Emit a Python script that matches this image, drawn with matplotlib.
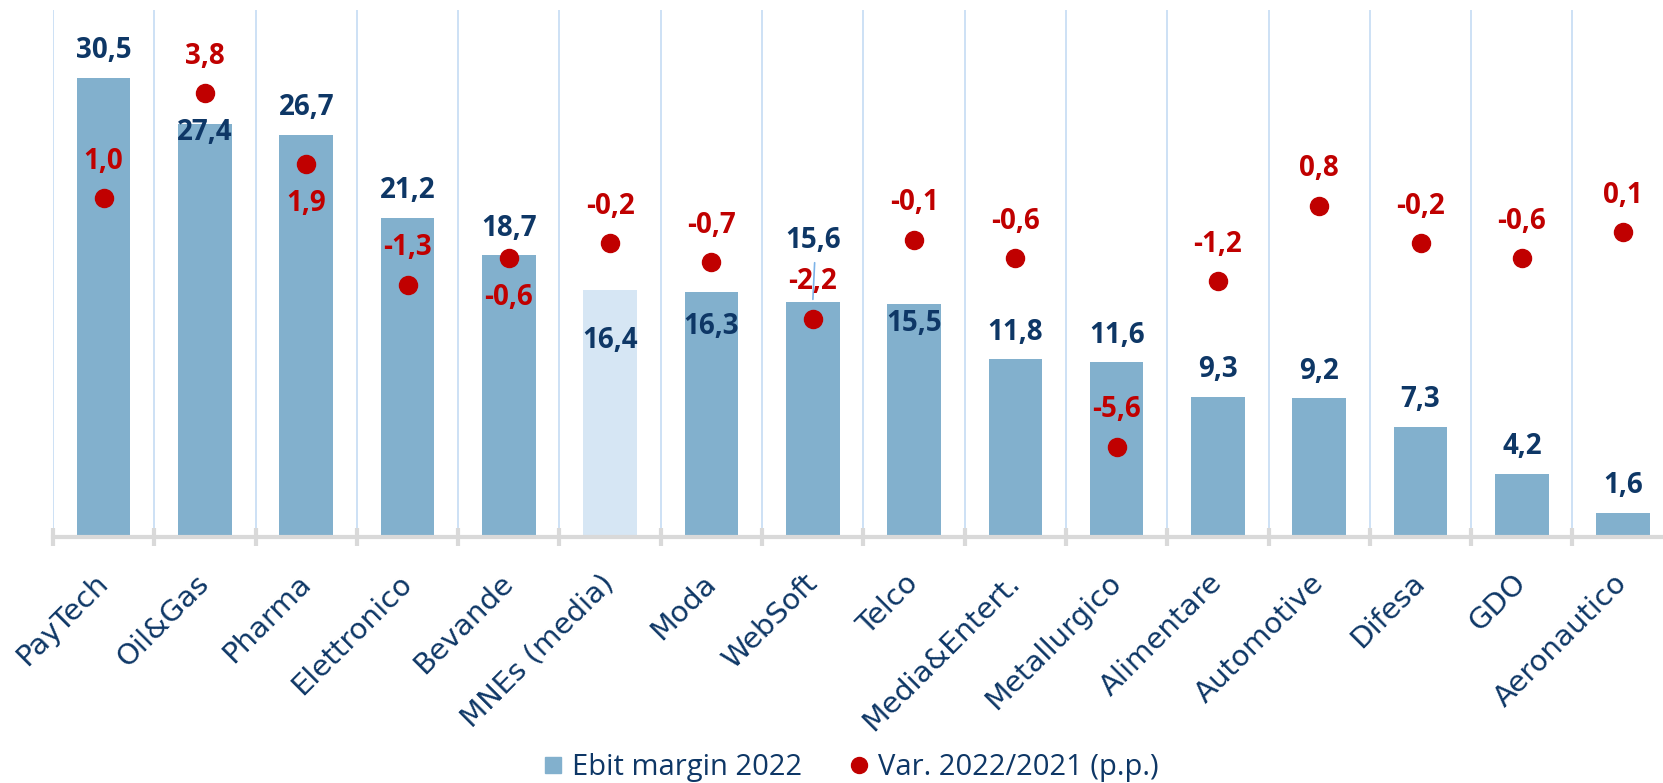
import matplotlib
matplotlib.use("Agg")
import matplotlib.pyplot as plt
from matplotlib.lines import Line2D
from matplotlib.transforms import ScaledTranslation
import numpy as np

categories = ["PayTech", "Oil&Gas", "Pharma", "Elettronico", "Bevande", "MNEs (media)",
              "Moda", "WebSoft", "Telco", "Media&Entert.", "Metallurgico", "Alimentare",
              "Automotive", "Difesa", "GDO", "Aeronautico"]
ebit_2022 = [30.5, 27.4, 26.7, 21.2, 18.7, 16.4, 16.3, 15.6, 15.5, 11.8, 11.6, 9.3, 9.2, 7.3, 4.2, 1.6]
var_pp = [1.0, 3.8, 1.9, -1.3, -0.6, -0.2, -0.7, -2.2, -0.1, -0.6, -5.6, -1.2, 0.8, -0.2, -0.6, 0.1]

# label offsets (points) – layout only
bar_lbl_off = [19.5, -5.8, 19.5, 19.5, 19.5, -36.5, -25, 44, -14.5, 19.5, 19.5, 19.5, 19.5, 19.5, 19.5, 19.5]
dot_lbl_off = [26.5, 26.5, -28, 26.5, -28, 26.5, 26.5, 26.5, 26.5, 26.5, 26.5, 26.5, 26.5, 26.5, 26.5, 26.5]

BAR = "#82B0CD"
BAR_AVG = "#D6E6F4"
RED = "#C00000"
NAVY = "#0E3766"
GRID = "#C9DEF5"
AXIS = "#D9D9D9"

plt.rcParams['font.family'] = ['Open Sans', 'DejaVu Sans']

fig = plt.figure(figsize=(16.63, 7.83), dpi=100)
ax = fig.add_axes([53 / 1663, 246 / 783, 16 * 101.3 / 1663, 527 / 783])
x = np.arange(len(categories))

colors = [BAR_AVG if c == "MNEs (media)" else BAR for c in categories]
bars = ax.bar(x, ebit_2022, width=0.53, color=colors, zorder=3)
ax.set_ylim(0, 35)
ax.set_xlim(-0.5, len(categories) - 0.5)

for s in ["top", "right", "left"]:
    ax.spines[s].set_visible(False)
ax.spines["bottom"].set_color(AXIS)
ax.spines["bottom"].set_linewidth(3)
ax.spines["bottom"].set_zorder(4)
ax.set_yticks([])

ax.set_xticks(x)
ax.set_xticklabels(categories, rotation=45, ha="right", rotation_mode="anchor",
                   fontsize=21, color=NAVY, family=["DejaVu Sans"])
ax.tick_params(axis="x", which="major", length=0, pad=23)
for lab in ax.get_xticklabels():
    lab.set_transform(lab.get_transform() + ScaledTranslation(-10 / 100, 0, fig.dpi_scale_trans))
ax.set_xticks(np.arange(-0.5, len(categories), 1.0), minor=True)
ax.tick_params(axis="x", which="minor", length=13, width=3, color=AXIS, direction="inout")
ax.grid(True, axis="x", which="minor", color=GRID, linewidth=1.3, zorder=0)
ax.grid(False, axis="x", which="major")

for xi, v, off in zip(x, ebit_2022, bar_lbl_off):
    ax.annotate(f"{v:.1f}".replace(".", ","), (xi, v), xytext=(0, off), textcoords="offset points",
                ha="center", va="center", fontsize=20, fontweight="bold", color=NAVY, zorder=6)

# leader line for WebSoft label
iw = categories.index("WebSoft")
ax.annotate("", xy=(x[iw], ebit_2022[iw]), xytext=(x[iw] + 0.02, ebit_2022[iw] + 2.8),
            arrowprops=dict(arrowstyle="-", color="#7DB3E8", lw=1.2), zorder=5)

ax2 = ax.twinx()
ax2.set_ylim(-8, 6)
ax2.plot(x, var_pp, linestyle="none", marker="o", markersize=13, color=RED, zorder=5)
for s in ax2.spines.values():
    s.set_visible(False)
ax2.set_yticks([])
for xi, v, off in zip(x, var_pp, dot_lbl_off):
    ax2.annotate(f"{v:.1f}".replace(".", ","), (xi, v), xytext=(0, off), textcoords="offset points",
                 ha="center", va="center", fontsize=20, fontweight="bold", color=RED, zorder=6)

handles = [Line2D([], [], linestyle="none", marker="s", markersize=11.5, color=BAR),
           Line2D([], [], linestyle="none", marker="o", markersize=11.5, color=RED)]
fig.legend(handles, ["Ebit margin 2022", "Var. 2022/2021 (p.p.)"], loc="center",
           bbox_to_anchor=(851 / 1663, 15 / 783), ncol=2, frameon=False, fontsize=21,
           labelcolor=NAVY, handlelength=0.7, handletextpad=0.3, columnspacing=1.6)

fig.savefig("out.png", dpi=100)
